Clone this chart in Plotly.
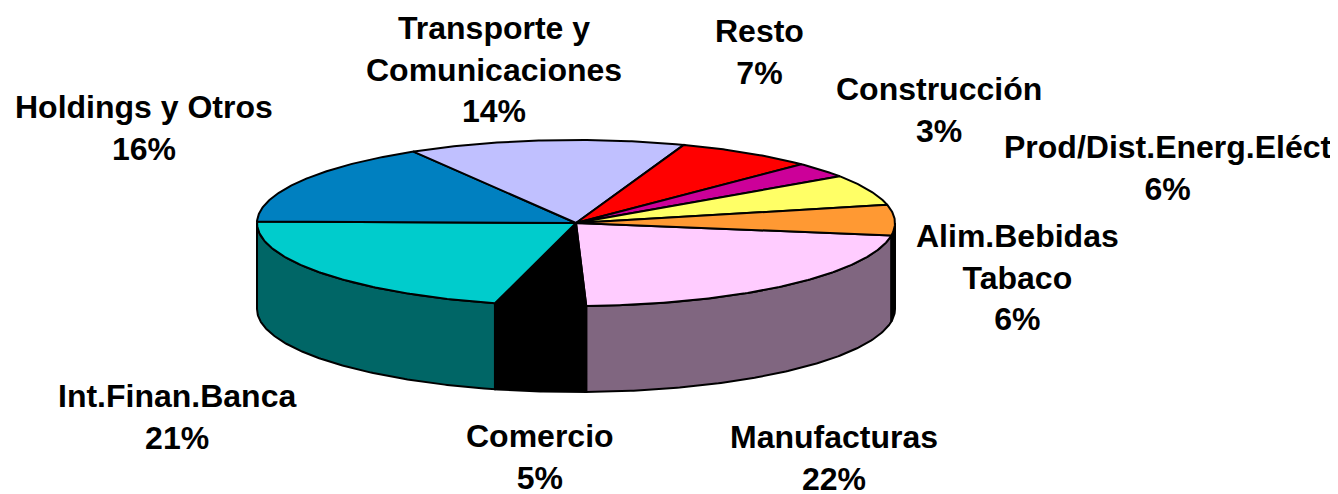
import numpy as np
import plotly.graph_objects as go

categories = ["Manufacturas", "Comercio", "Int.Finan.Banca", "Holdings y Otros",
              "Transporte y<br>Comunicaciones", "Resto", "Construcción",
              "Prod/Dist.Energ.Eléct", "Alim.Bebidas<br>Tabaco"]
values = [22.1, 4.6, 21.2, 16.2, 14, 7, 3, 6, 5.9]
top_colors = ["#FFCCFF", "#000000", "#00CCCC", "#0080C0", "#C0C0FF",
              "#FF0000", "#CC0099", "#FFFF66", "#FF9933"]
side_colors = ["#806680", "#000000", "#006666", "#004060", "#606080",
               "#800000", "#66004D", "#808033", "#000000"]
label_x = [834, 540, 177, 144, 494, 759, 939, 1168, 1017]
label_y = [458, 457, 417, 128, 69, 52, 110, 168, 277]

CX, CY, RX, RY, DEPTH = 576, 223, 319, 83, 86
START = 8.6
PAGE_MARGIN = 8  # the browser's default body margin offsets the figure

fig = go.Figure()
edges = START + np.cumsum([0] + [v * 3.6 for v in values])


def rim(a, b, dy=0.0):
    t = np.radians(np.linspace(a, b, max(2, int(abs(b - a) * 2))))
    return CX + RX * np.cos(t), CY + RY * np.sin(t) + dy


# walls: only the front half (0..180 deg on screen) is visible
for i in range(len(values)):
    for lo, hi in ((edges[i], edges[i + 1]), (edges[i] - 360, edges[i + 1] - 360)):
        a, b = max(lo, 0), min(hi, 180)
        if a >= b:
            continue
        x1, y1 = rim(a, b)
        x2, y2 = rim(b, a, DEPTH)
        fig.add_trace(go.Scatter(
            x=np.r_[x1, x2, x1[0]], y=np.r_[y1, y2, y1[0]], mode="lines", fill="toself",
            fillcolor=side_colors[i], line=dict(color="#000000", width=2),
            hoverinfo="skip", showlegend=False))

# top face
for i, name in enumerate(categories):
    x, y = rim(edges[i], edges[i + 1])
    fig.add_trace(go.Scatter(
        x=np.r_[CX, x, CX], y=np.r_[CY, y, CY], mode="lines", fill="toself",
        fillcolor=top_colors[i], line=dict(color="#000000", width=2),
        name=name.replace("<br>", " "), showlegend=False))

for name, v, lx, ly in zip(categories, values, label_x, label_y):
    fig.add_annotation(x=lx, y=ly, text=f"<b>{name}<br>{round(v)}%</b>", showarrow=False,
                       font=dict(family="Liberation Sans", size=32, color="#000000"),
                       align="center", xanchor="center", yanchor="middle")

fig.update_layout(
    width=1338, height=494, margin=dict(l=0, r=0, t=0, b=0),
    paper_bgcolor="#FFFFFF", plot_bgcolor="#FFFFFF",
    xaxis=dict(range=[PAGE_MARGIN, 1338 + PAGE_MARGIN], visible=False, fixedrange=True),
    yaxis=dict(range=[494 + PAGE_MARGIN, PAGE_MARGIN], visible=False, fixedrange=True),
)
fig.write_html("out.html")
